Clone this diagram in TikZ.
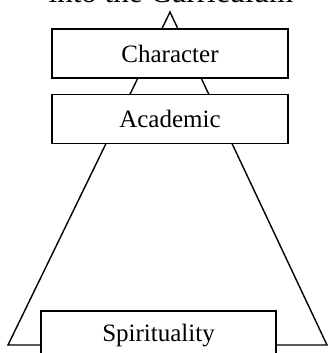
\documentclass[tikz,border=0pt]{standalone}
\usepackage{fontspec}
\setmainfont{Liberation Serif}
\usetikzlibrary{positioning}

\begin{document}
\begin{tikzpicture}[x=1pt, y=-1pt,
              tier/.style={draw, fill=white, line width=1.5pt, inner sep=0pt,
                           minimum width=236pt, minimum height=49pt,
                           font=\fontsize{25}{30}\selectfont},
              outline/.style={line width=1.4pt, black},
             ]
\useasboundingbox (0,0) rectangle (328,353);
\clip (0,0) rectangle (328,353);
\coordinate (apex) at (170,12);
\coordinate (baseL) at (8,345);
\coordinate (baseR) at (327,345);
\node[anchor=base, font=\fontsize{31}{36}\selectfont] (title) at (171,3) {into the Curriculum};
\draw[outline] (apex) -- (baseL) -- (baseR) -- cycle;
\node[tier] (character) at (170,53.5) {Character};
\node[tier, below=15pt of character] (academic) {Academic};
\node[tier, anchor=north, minimum width=235pt, minimum height=50pt] (spirit) at (158.5,310) {Spirituality};
\end{tikzpicture}
\end{document}
